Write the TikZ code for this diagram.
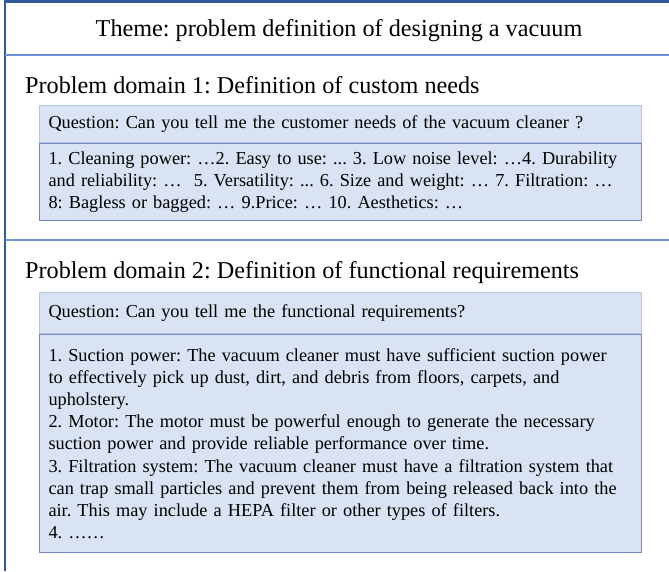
\documentclass[tikz,border=0pt]{standalone}
\usepackage{fontspec}
\setmainfont{Liberation Serif}
\usetikzlibrary{positioning}
\definecolor{framebl}{RGB}{52,88,156}
\definecolor{sepbl}{RGB}{112,146,208}
\definecolor{boxfill}{RGB}{218,227,243}
\definecolor{qline}{RGB}{180,199,231}
\definecolor{aline}{RGB}{110,138,190}
\frenchspacing
\tikzset{
	frame/.style={framebl, line width=2.5pt},
	sepline/.style={sepbl, line width=2.5pt},
	headtxt/.style={inner sep=0pt, font=\fontsize{24.2}{29}\selectfont},
	qbox/.style={draw=qline, line width=1pt, fill=boxfill, anchor=north west,
		minimum width=602pt, text width=584pt, inner xsep=9pt, align=left,
		font=\fontsize{18.3}{22.2}\selectfont},
	abox/.style={qbox, draw=aline, anchor=north}
}
\begin{document}
\begin{tikzpicture}[x=1pt,y=-1pt]
	\useasboundingbox (0,0) rectangle (669,571);
	\draw[frame] (5,0) -- (5,571);
	\draw[frame] (5,1.5) -- (669,1.5);
	\draw[sepline] (5,55) -- (669,55);
	\draw[sepline] (5,240) -- (669,240);
	\node[headtxt, anchor=base] (theme) at (339,36) {Theme: problem definition of designing a vacuum};
	\node[headtxt, anchor=base west] (dom1) at (25,93.5) {Problem domain 1: Definition of custom needs};
	\node[qbox, minimum height=37pt] (q1) at (39,105) {Question: Can you tell me the customer needs of the vacuum cleaner ?};
	\node[abox, minimum height=77pt, below=0pt of q1] (a1) {1. Cleaning power: …2. Easy to use: ... 3. Low noise level: …4. Durability\\
		and reliability: …\ \ 5. Versatility: ... 6. Size and weight: … 7. Filtration: …\\
		8: Bagless or bagged: … 9.Price: … 10. Aesthetics: …};
	\node[headtxt, anchor=base west] (dom2) at (25,278) {Problem domain 2: Definition of functional requirements};
	\node[qbox, minimum height=41pt] (q2) at (39,292) {Question: Can you tell me the functional requirements?};
	\node[abox, minimum height=218pt, below=0pt of q2] (a2) {1. Suction power: The vacuum cleaner must have sufficient suction power\\
		to effectively pick up dust, dirt, and debris from floors, carpets, and\\
		upholstery.\\
		2. Motor: The motor must be powerful enough to generate the necessary\\
		suction power and provide reliable performance over time.\\
		3. Filtration system: The vacuum cleaner must have a filtration system that\\
		can trap small particles and prevent them from being released back into the\\
		air. This may include a HEPA filter or other types of filters.\\
		4. ……};
\end{tikzpicture}
\end{document}
